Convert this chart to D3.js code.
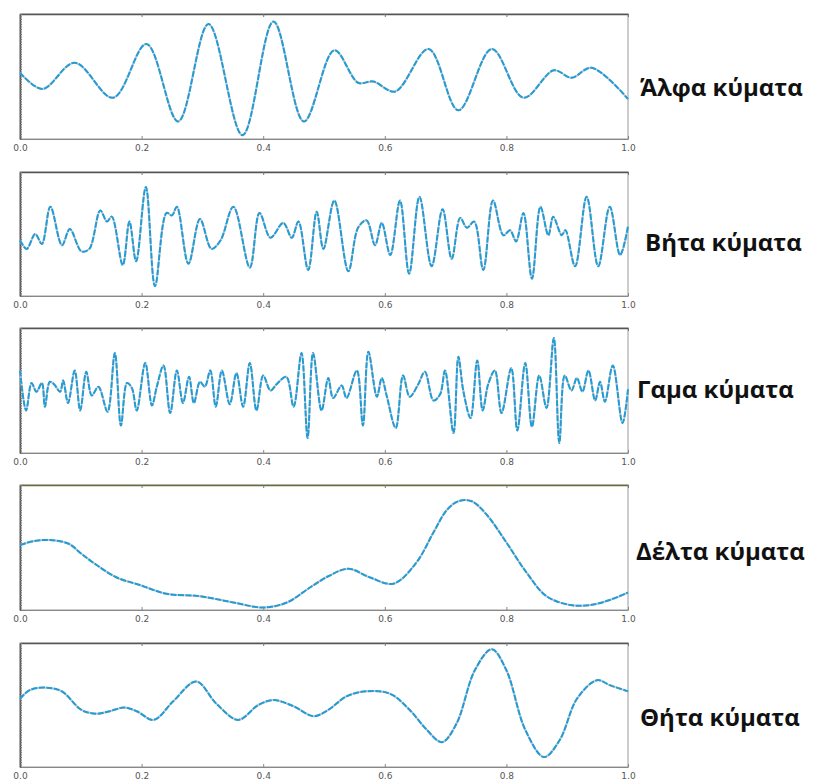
<!DOCTYPE html>
<html lang="el">
<head>
<meta charset="UTF-8">
<title>Εγκεφαλικά κύματα</title>
<style>
  body { margin: 0; background: #fff; }
  svg { display: block; }
  .tick text { font-family: "DejaVu Sans", sans-serif; font-size: 9px; fill: #555; }
  .lbl { font-family: "Open Sans", sans-serif; font-weight: 700; font-size: 24px; fill: #111; }
</style>
</head>
<body>
<div id="chart"></div>
<script src="https://d3js.org/d3.v7.min.js"></script>
<script>

// values: [time, amplitude (0 = bottom of frame, 1 = top)]
const alpha = [[0,0.53],[0.037,0.40],[0.09,0.61],[0.153,0.33],[0.208,0.76],[0.26,0.14],[0.31,0.92],[0.366,0.03],
  [0.417,0.94],[0.467,0.14],[0.517,0.71],[0.556,0.45],[0.581,0.46],[0.617,0.38],[0.672,0.72],[0.721,0.23],
  [0.776,0.72],[0.828,0.33],[0.878,0.55],[0.907,0.49],[0.94,0.57],[1.0,0.32]];

const beta = [[0,0.45],[0.011,0.38],[0.025,0.5],[0.036,0.42],[0.05,0.72],[0.069,0.41],[0.082,0.54],[0.101,0.36],
  [0.114,0.38],[0.132,0.69],[0.143,0.6],[0.151,0.64],[0.169,0.25],[0.18,0.6],[0.191,0.28],[0.207,0.88],
  [0.222,0.08],[0.241,0.67],[0.25,0.65],[0.258,0.72],[0.277,0.26],[0.296,0.62],[0.315,0.38],[0.33,0.45],
  [0.351,0.72],[0.378,0.23],[0.394,0.67],[0.412,0.47],[0.433,0.59],[0.447,0.47],[0.458,0.6],[0.474,0.21],
  [0.488,0.68],[0.499,0.38],[0.517,0.77],[0.54,0.2],[0.556,0.55],[0.57,0.61],[0.584,0.41],[0.595,0.59],
  [0.609,0.33],[0.625,0.77],[0.64,0.18],[0.657,0.8],[0.677,0.24],[0.695,0.7],[0.71,0.3],[0.724,0.63],
  [0.735,0.55],[0.747,0.6],[0.762,0.21],[0.778,0.77],[0.795,0.49],[0.806,0.53],[0.816,0.44],[0.828,0.67],
  [0.842,0.14],[0.856,0.72],[0.869,0.49],[0.877,0.64],[0.891,0.49],[0.897,0.53],[0.913,0.24],[0.932,0.8],
  [0.951,0.24],[0.97,0.72],[0.987,0.33],[1.0,0.56]];

const gamma = [[0,0.66],[0.01,0.34],[0.019,0.56],[0.027,0.49],[0.036,0.56],[0.041,0.37],[0.049,0.57],[0.056,0.55],
  [0.066,0.49],[0.071,0.58],[0.079,0.4],[0.09,0.66],[0.099,0.34],[0.109,0.65],[0.118,0.46],[0.129,0.53],
  [0.144,0.33],[0.156,0.8],[0.166,0.22],[0.176,0.56],[0.184,0.52],[0.192,0.34],[0.206,0.72],[0.217,0.38],
  [0.225,0.53],[0.236,0.7],[0.247,0.32],[0.258,0.66],[0.268,0.4],[0.278,0.61],[0.286,0.4],[0.296,0.57],
  [0.304,0.53],[0.313,0.66],[0.322,0.37],[0.332,0.66],[0.345,0.39],[0.356,0.64],[0.367,0.37],[0.378,0.72],
  [0.389,0.34],[0.4,0.62],[0.412,0.5],[0.422,0.55],[0.438,0.61],[0.45,0.37],[0.463,0.8],[0.473,0.12],
  [0.482,0.8],[0.496,0.34],[0.507,0.6],[0.515,0.44],[0.529,0.54],[0.537,0.44],[0.554,0.66],[0.564,0.22],
  [0.573,0.81],[0.587,0.45],[0.595,0.6],[0.603,0.46],[0.618,0.2],[0.63,0.62],[0.641,0.45],[0.655,0.55],
  [0.666,0.65],[0.68,0.42],[0.691,0.47],[0.699,0.66],[0.713,0.16],[0.721,0.77],[0.729,0.5],[0.741,0.28],
  [0.752,0.74],[0.761,0.34],[0.77,0.55],[0.781,0.66],[0.792,0.32],[0.808,0.68],[0.818,0.18],[0.831,0.72],
  [0.842,0.21],[0.854,0.62],[0.866,0.36],[0.878,0.92],[0.887,0.08],[0.896,0.62],[0.907,0.5],[0.916,0.6],
  [0.925,0.49],[0.935,0.66],[0.946,0.42],[0.954,0.57],[0.962,0.41],[0.975,0.7],[0.991,0.24],[1.0,0.51]];

const delta = [[0,0.52],[0.022,0.55],[0.049,0.56],[0.08,0.53],[0.101,0.45],[0.126,0.36],[0.159,0.26],[0.197,0.2],
  [0.241,0.13],[0.296,0.11],[0.351,0.06],[0.4,0.02],[0.439,0.06],[0.477,0.18],[0.507,0.27],[0.54,0.33],
  [0.576,0.26],[0.614,0.21],[0.652,0.38],[0.68,0.62],[0.702,0.8],[0.721,0.87],[0.743,0.87],[0.768,0.76],
  [0.8,0.54],[0.833,0.3],[0.866,0.11],[0.905,0.04],[0.938,0.04],[0.97,0.08],[1.0,0.14]];

const theta = [[0,0.55],[0.016,0.62],[0.044,0.64],[0.069,0.61],[0.101,0.46],[0.126,0.43],[0.148,0.45],[0.171,0.48],
  [0.192,0.45],[0.22,0.38],[0.252,0.53],[0.29,0.69],[0.323,0.51],[0.359,0.38],[0.392,0.5],[0.417,0.54],
  [0.45,0.49],[0.483,0.41],[0.507,0.46],[0.537,0.57],[0.57,0.61],[0.609,0.59],[0.641,0.46],[0.669,0.3],
  [0.694,0.2],[0.718,0.35],[0.748,0.78],[0.776,0.95],[0.8,0.78],[0.831,0.3],[0.862,0.08],[0.888,0.22],
  [0.916,0.55],[0.949,0.7],[0.97,0.66],[1.0,0.61]];

const names = ['Άλφα κύματα', 'Βήτα κύματα', 'Γαμα κύματα', 'Δέλτα κύματα', 'Θήτα κύματα'];
const xTicks = [0, 0.2, 0.4, 0.6, 0.8, 1.0];

// layout of the five panels
const panels = [
  { data: alpha, top: 14,  bottom: 139, lx: 640, ly: 96 },
  { data: beta,  top: 172, bottom: 296, lx: 645, ly: 251 },
  { data: gamma, top: 328, bottom: 453, lx: 637, ly: 398 },
  { data: delta, top: 485, bottom: 610, lx: 636, ly: 560 },
  { data: theta, top: 643, bottom: 767, lx: 640, ly: 726 }
];
const left = 20, right = 628;

const svg = d3.select('#chart').append('svg')
  .attr('width', 816).attr('height', 782);

const x = d3.scaleLinear().domain([0, 1]).range([left, right]);

panels.forEach(function(p, i) {
  const y = d3.scaleLinear().domain([0, 1]).range([p.bottom, p.top]);
  const g = svg.append('g');

  // frame
  g.append('rect')
    .attr('x', left).attr('y', p.top)
    .attr('width', right - left).attr('height', p.bottom - p.top)
    .attr('fill', 'none').attr('stroke', '#9a9a9a');

  // bottom axis with labels, ticks pointing inward
  g.append('g')
    .attr('transform', `translate(0,${p.bottom})`)
    .call(d3.axisBottom(x).tickValues(xTicks).tickFormat(d3.format('.1f'))
      .tickSizeInner(-3).tickSizeOuter(0).tickPadding(6))
    .call(a => a.select('.domain').attr('stroke', '#888'))
    .call(a => a.selectAll('.tick line').attr('stroke', '#888'));

  // top axis, ticks only
  g.append('g')
    .attr('transform', `translate(0,${p.top})`)
    .call(d3.axisTop(x).tickValues(xTicks).tickFormat('')
      .tickSizeInner(-3).tickSizeOuter(0))
    .call(a => a.select('.domain').attr('stroke', i === 3 ? '#6b6a3a' : '#555').attr('stroke-width', 1.6))
    .call(a => a.selectAll('.tick line').attr('stroke', '#777'));

  // left edge with small minor ticks
  g.append('g')
    .attr('transform', `translate(${left},0)`)
    .call(d3.axisRight(y).ticks(40).tickFormat('').tickSizeInner(2).tickSizeOuter(0))
    .call(a => a.select('.domain').attr('stroke', '#555').attr('stroke-width', 1.6))
    .call(a => a.selectAll('.tick line').attr('stroke', '#777'));

  const line = d3.line()
    .x(d => x(d[0]))
    .y(d => y(d[1]))
    .curve(d3.curveCatmullRom.alpha(0.5));

  g.append('path')
    .datum(p.data)
    .attr('fill', 'none')
    .attr('stroke', '#c9c6c6')
    .attr('stroke-width', 2)
    .attr('d', line);

  g.append('path')
    .datum(p.data)
    .attr('fill', 'none')
    .attr('stroke', '#1f9dd8')
    .attr('stroke-width', 2)
    .attr('stroke-dasharray', '6,1.5')
    .attr('d', line);

  svg.append('text')
    .attr('class', 'lbl')
    .attr('x', p.lx).attr('y', p.ly)
    .text(names[i]);
});

</script>
</body>
</html>
